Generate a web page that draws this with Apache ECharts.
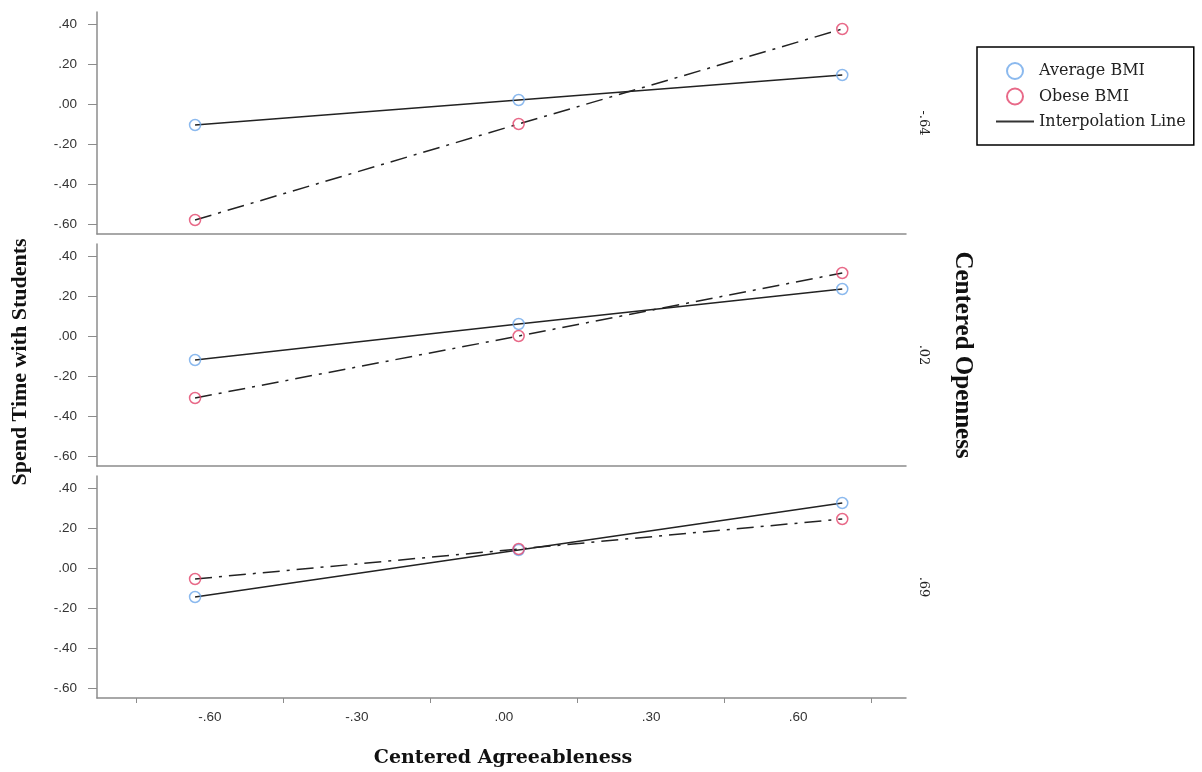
<!DOCTYPE html>
<html>
<head>
<meta charset="utf-8">
<script src="https://cdn.jsdelivr.net/npm/echarts@6/dist/echarts.min.js"></script>
<style>
  html, body { margin: 0; padding: 0; background: #fff; }
  #chart { width: 1202px; height: 772px; }
</style>
</head>
<body>
<div id="chart"></div>
<script>
// data
const agreeLevels = [-0.63, 0.03, 0.69];
const opennessLabels = ['-.64', '.02', '.69'];
const averageBMI = [
  [-0.105, 0.02, 0.145],
  [-0.12, 0.06, 0.235],
  [-0.145, 0.09, 0.325]
];
const obeseBMI = [
  [-0.58, -0.10, 0.375],
  [-0.31, 0.0, 0.315],
  [-0.055, 0.095, 0.245]
];
const yTicks = [-0.6, -0.4, -0.2, 0, 0.2, 0.4];
const xLabels = [-0.6, -0.3, 0, 0.3, 0.6];
const xTicks = [-0.75, -0.45, -0.15, 0.15, 0.45, 0.75];

const fmt = v => (v < 0 ? '-' : '') + Math.abs(v).toFixed(2).replace(/^0/, '');

const axisGray = '#8c8c8c';
const blue = '#6ea8ea';
const red = '#e2436a';
const tops = [12, 244, 476];

const grids = [], xAxes = [], yAxes = [], series = [];
tops.forEach((t, i) => {
  grids.push({ left: 97, top: t, width: 809, height: 222 });
  const last = i === tops.length - 1;
  xAxes.push({
    type: 'value', gridIndex: i, min: -0.83, max: 0.82,
    splitLine: { show: false },
    axisLine: { show: true, onZero: false, lineStyle: { color: axisGray, width: 1.5 } },
    axisTick: { show: last, customValues: xTicks, length: 5, lineStyle: { color: axisGray } },
    axisLabel: {
      show: last, customValues: xLabels, formatter: fmt, margin: 12,
      color: '#333', fontSize: 13.5, fontFamily: 'Liberation Sans'
    }
  });
  yAxes.push({
    type: 'value', gridIndex: i, min: -0.65, max: 0.46,
    splitLine: { show: false },
    axisLine: { show: true, onZero: false, lineStyle: { color: axisGray, width: 1.5 } },
    axisTick: { show: true, customValues: yTicks, length: 9, lineStyle: { color: axisGray } },
    axisLabel: {
      customValues: yTicks, formatter: fmt, margin: 20,
      color: '#333', fontSize: 13.5, fontFamily: 'Liberation Sans'
    }
  });

  const avgPts = agreeLevels.map((x, k) => [x, averageBMI[i][k]]);
  const obPts = agreeLevels.map((x, k) => [x, obeseBMI[i][k]]);

  series.push({
    type: 'line', name: 'avgLine' + i, xAxisIndex: i, yAxisIndex: i, data: avgPts,
    symbol: 'none', lineStyle: { color: '#222', width: 1.5 }, silent: true
  });
  series.push({
    type: 'line', name: 'obLine' + i, xAxisIndex: i, yAxisIndex: i, data: obPts,
    symbol: 'none', lineStyle: { color: '#222', width: 1.5, type: [17, 7, 3, 7] }, silent: true
  });
  series.push({
    type: 'scatter', name: 'Average BMI', xAxisIndex: i, yAxisIndex: i, data: avgPts,
    symbol: 'circle', symbolSize: 11, z: 5,
    itemStyle: { color: 'rgba(255,255,255,0)', borderColor: blue, borderWidth: 1.5 }
  });
  series.push({
    type: 'scatter', name: 'Obese BMI', xAxisIndex: i, yAxisIndex: i, data: obPts,
    symbol: 'circle', symbolSize: 11, z: 5,
    itemStyle: { color: 'rgba(255,255,255,0)', borderColor: red, borderWidth: 1.5 }
  });
});

// dummy series only for the legend entry
series.push({
  type: 'line', name: 'Interpolation Line', xAxisIndex: 0, yAxisIndex: 0, data: [],
  symbol: 'none', itemStyle: { color: '#333' }, lineStyle: { color: '#333', width: 1.5 }
});

const serif = 'DejaVu Serif';
const graphic = [
  {
    type: 'text', x: 20, y: 362, rotation: Math.PI / 2,
    style: { text: 'Spend Time with Students', font: 'bold 22px "Liberation Serif"', fill: '#111', align: 'center', verticalAlign: 'middle' }
  },
  {
    type: 'text', x: 503, y: 758,
    style: { text: 'Centered Agreeableness', font: 'bold 19px "' + serif + '"', fill: '#111', align: 'center', verticalAlign: 'middle' }
  },
  {
    type: 'text', x: 962, y: 355, rotation: -Math.PI / 2,
    style: { text: 'Centered Openness', font: 'bold 25px "Liberation Serif"', fill: '#111', align: 'center', verticalAlign: 'middle' }
  }
];
opennessLabels.forEach((lab, i) => {
  graphic.push({
    type: 'text', x: 923, y: tops[i] + 111, rotation: -Math.PI / 2,
    style: { text: lab, font: '13px "' + serif + '"', fill: '#222', align: 'center', verticalAlign: 'middle' }
  });
});

const chart = echarts.init(document.getElementById('chart'));
chart.setOption({
  animation: false,
  backgroundColor: '#fff',
  grid: grids,
  xAxis: xAxes,
  yAxis: yAxes,
  series: series,
  legend: {
    data: [
      { name: 'Average BMI', icon: 'circle' },
      { name: 'Obese BMI', icon: 'circle' },
      { name: 'Interpolation Line', itemStyle: { opacity: 0 } }
    ],
    orient: 'vertical', left: 977, top: 47,
    itemWidth: 38, itemHeight: 16, itemGap: 7.5,
    padding: [15, 8, 15, 18],
    borderColor: '#000', borderWidth: 1.5,
    textStyle: { fontFamily: serif, fontSize: 16, color: '#222', lineHeight: 17 }
  },
  graphic: graphic
});
</script>
</body>
</html>
